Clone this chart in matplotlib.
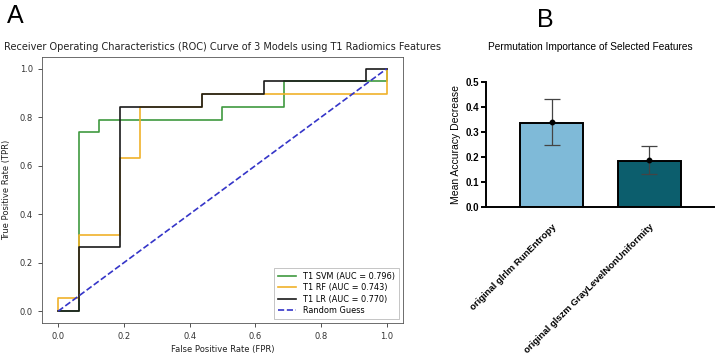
import matplotlib
matplotlib.use("Agg")
import matplotlib.pyplot as plt

# ROC data (FPR / TPR step points)
svm_fpr = [0, 0.0625, 0.0625, 0.125, 0.125, 0.5, 0.5, 0.6875, 0.6875, 1.0, 1.0]
svm_tpr = [0, 0, 14/19, 14/19, 15/19, 15/19, 16/19, 16/19, 18/19, 18/19, 1.0]
rf_fpr = [0, 0, 0.0625, 0.0625, 0.1875, 0.1875, 0.25, 0.25, 0.4375, 0.4375, 1.0, 1.0]
rf_tpr = [0, 1/19, 1/19, 6/19, 6/19, 12/19, 12/19, 16/19, 16/19, 17/19, 17/19, 1.0]
lr_fpr = [0, 0.0625, 0.0625, 0.1875, 0.1875, 0.4375, 0.4375, 0.625, 0.625, 0.9375, 0.9375, 1.0]
lr_tpr = [0, 0, 5/19, 5/19, 16/19, 16/19, 17/19, 17/19, 18/19, 18/19, 1.0, 1.0]
roc_labels = ["T1 SVM (AUC = 0.796)", "T1 RF (AUC = 0.743)", "T1 LR (AUC = 0.770)"]
diag = [0, 1]

# Permutation importance
features = ["original glrlm RunEntropy", "original glszm GrayLevelNonUniformity"]
importance = [0.335, 0.184]
point_vals = [0.340, 0.188]
err_low = [0.246, 0.131]
err_high = [0.430, 0.242]

fig = plt.figure(figsize=(7.2, 3.58), dpi=100)

ax1 = fig.add_axes([0.058, 0.097, 0.502, 0.745])
ax1.plot(svm_fpr, svm_tpr, color="#3f9a3f", lw=1.2, label=roc_labels[0])
ax1.plot(rf_fpr, rf_tpr, color="#f0b22a", lw=1.2, label=roc_labels[1])
ax1.plot(lr_fpr, lr_tpr, color="#1a1a1a", lw=1.2, label=roc_labels[2])
ax1.plot(diag, diag, color="#3535c8", lw=1.2, ls="--", label="Random Guess")
ax1.set_xticks([0, 0.2, 0.4, 0.6, 0.8, 1.0])
ax1.set_yticks([0, 0.2, 0.4, 0.6, 0.8, 1.0])
ax1.tick_params(labelsize=6, length=3, width=0.6, colors="#333333")
for s in ax1.spines.values():
    s.set_linewidth(0.6)
    s.set_color("#555555")
ax1.set_xlabel("False Positive Rate (FPR)", fontsize=6, labelpad=3, color="#222222")
ax1.set_ylabel("True Positive Rate (TPR)", fontsize=6, labelpad=6, color="#222222")
ax1.set_title("Receiver Operating Characteristics (ROC) Curve of 3 Models using T1 Radiomics Features",
              fontsize=7.0, pad=5, color="#222222")
leg = ax1.legend(loc="lower right", fontsize=5.9, frameon=True, fancybox=False,
                 handlelength=2.2, borderpad=0.5, labelspacing=0.3)
leg.get_frame().set_linewidth(0.6)
leg.get_frame().set_edgecolor("#aaaaaa")

ax2 = fig.add_axes([0.675, 0.421, 0.317, 0.351])
xpos = [0, 1]
ax2.bar(xpos, importance, width=0.65, color=["#7fbad8", "#0c5e6d"],
        edgecolor="black", linewidth=1.4, zorder=2)
yerr = [[v - l for v, l in zip(point_vals, err_low)], [h - v for v, h in zip(point_vals, err_high)]]
ax2.errorbar(xpos, point_vals, yerr=yerr, fmt="o", color="black", ecolor="#444444",
             elinewidth=0.9, capsize=6, capthick=0.9, markersize=3.2, zorder=3)
ax2.set_xlim(-0.674, 1.665)
ax2.set_ylim(0, 0.5)
ax2.set_yticks([0, 0.1, 0.2, 0.3, 0.4, 0.5])
ax2.set_yticklabels(["0.0", "0.1", "0.2", "0.3", "0.4", "0.5"], fontsize=7,
                    fontweight="bold", family="Liberation Sans")
ax2.set_xticks(xpos)
ax2.set_xticklabels(features, rotation=45, ha="right", rotation_mode="anchor",
                    fontsize=6.8, fontweight="bold", family="Liberation Sans")
ax2.tick_params(axis="x", length=0, pad=11)
ax2.tick_params(axis="y", length=3.5, width=1.4, pad=1.5)
ax2.spines["top"].set_visible(False)
ax2.spines["right"].set_visible(False)
ax2.spines["left"].set_linewidth(1.4)
ax2.spines["bottom"].set_linewidth(1.4)
ax2.set_ylabel("Mean Accuracy Decrease", fontsize=7.5, family="Liberation Sans", labelpad=3)
fig.text(0.82, 0.868, "Permutation Importance of Selected Features", fontsize=7.3,
         family="Liberation Sans", ha="center", va="center")

fig.text(0.009, 0.955, "A", fontsize=18, family="Liberation Sans", va="center", ha="left")
fig.text(0.746, 0.945, "B", fontsize=18, family="Liberation Sans", va="center", ha="left")

fig.savefig("out.png", dpi=100)
